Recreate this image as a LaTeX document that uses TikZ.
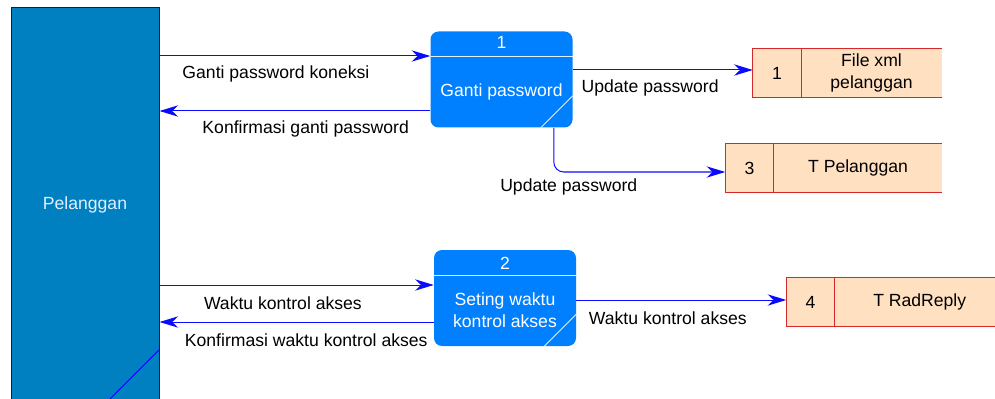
\documentclass[tikz,border=0pt]{standalone}
\usepackage{fontspec}
\setmainfont{Liberation Sans}
\usetikzlibrary{arrows.meta,positioning,calc}
\definecolor{entityblue}{RGB}{0,128,192}
\definecolor{procblue}{RGB}{0,128,255}
\definecolor{storefill}{RGB}{255,224,193}
\definecolor{storered}{RGB}{214,40,40}
\definecolor{flowblue}{RGB}{10,10,255}
\definecolor{headline}{RGB}{224,240,255}

\begin{document}
\begin{tikzpicture}[x=0.75pt,y=-0.75pt,
		font=\fontsize{13.2}{16.5}\selectfont,
		entity/.style={draw=blue,line width=0.75pt,fill=entityblue,text=headline,minimum width=111pt,minimum height=295.5pt,inner sep=0pt},
		process/.style={fill=procblue,rounded corners=6pt,minimum width=106.5pt,minimum height=72pt,inner sep=0pt},
		proctext/.style={text=white,align=center,inner sep=0pt},
		procline/.style={draw=headline,line width=0.6pt},
		storeid/.style={fill=storefill,minimum width=36pt,minimum height=36.75pt,inner sep=0pt},
		storename/.style={fill=storefill,minimum height=36.75pt,inner sep=0pt,align=center},
		storeline/.style={draw=storered,line width=0.75pt},
		flow/.style={draw=flowblue,line width=0.75pt,-{Stealth[length=14pt,width=8.5pt,inset=4.5pt]}},
		flowlabel/.style={yshift=-13.75pt,inner sep=0pt}]
		\useasboundingbox (0,0) rectangle (995,399);
		\clip (0,0) rectangle (995,399);
		% external entity
		\node[entity] (pelanggan) at (85,205) {Pelanggan};
		\draw[blue,line width=0.6pt] ($(pelanggan.south east)+(0,-53)$) -- ($(pelanggan.south east)+(-53,0)$);
		% processes
		\node[process] (p1) at (501.5,79.5) {};
		\node[proctext] (p1id) at ($(p1.north)+(0,11.5)$) {1};
		\node[proctext] (p1name) at ($(p1.center)+(0,12)$) {Ganti password};
		\draw[procline] ($(p1.north west)+(0,25)$) -- ($(p1.north east)+(0,25)$);
		\draw[procline] ($(p1.south east)+(0,-32)$) -- ($(p1.south east)+(-32,0)$);
		\node[process] (p2) at (505,298) {};
		\node[proctext] (p2id) at ($(p2.north)+(0,13.5)$) {2};
		\node[proctext] (p2name) at ($(p2.center)+(0,12.5)$) {Seting waktu\\kontrol akses};
		\draw[procline] ($(p2.north west)+(0,26)$) -- ($(p2.north east)+(0,26)$);
		\draw[procline] ($(p2.south east)+(0,-32)$) -- ($(p2.south east)+(-32,0)$);
		% data stores
		\node[storeid] (s1id) at (777,73) {1};
		\node[storename,minimum width=105pt,right=0pt of s1id] (s1) {File xml\\pelanggan};
		\node[storeid] (s3id) at (749.5,168) {3};
		\node[storename,minimum width=126pt,right=0pt of s3id] (s3) {T Pelanggan};
		\node[storeid] (s4id) at (810.5,302) {4};
		\node[storename,minimum width=127pt,right=0pt of s4id] (s4) {T RadReply};
		\foreach \s in {s1,s3,s4}
			\draw[storeline] (\s.north east) -- (\s id.north west) -- (\s id.south west) -- (\s.south east)
				(\s id.north east) -- (\s id.south east);
		% data flows
		\coordinate (g1) at ($(p1.west)+(0,-23.5)$);
		\coordinate (k1) at ($(p1.west)+(0,31.5)$);
		\coordinate (u1) at ($(p1.east)+(0,-9.5)$);
		\coordinate (u3) at ($(p1.south east)+(-19,0)$);
		\coordinate (u3end) at ($(s3id.west)+(0,4)$);
		\coordinate (w2) at ($(p2.west)+(0,-13)$);
		\coordinate (k2) at ($(p2.west)+(0,24)$);
		\coordinate (w4) at ($(p2.east)+(0,2)$);
		\draw[flow] (pelanggan.east |- g1) -- node[flowlabel,pos=0.43] {Ganti password koneksi} (g1);
		\draw[flow] (k1) -- node[flowlabel,pos=0.46] {Konfirmasi ganti password} (pelanggan.east |- k1);
		\draw[flow] (u1) -- node[flowlabel,pos=0.43] {Update password} (s1id.west |- u1);
		\draw[flow,rounded corners=7.5pt] (u3) |- node[pos=0.5,xshift=11.25pt,yshift=-11.5pt,inner sep=0pt] {Update password} (u3end);
		\draw[flow] (pelanggan.east |- w2) -- node[flowlabel,pos=0.45] {Waktu kontrol akses} (w2);
		\draw[flow] (k2) -- node[flowlabel,pos=0.465] {Konfirmasi waktu kontrol akses} (pelanggan.east |- k2);
		\draw[flow] (w4) -- node[flowlabel,pos=0.436] {Waktu kontrol akses} (s4id.west |- w4);
	\end{tikzpicture}
\end{document}
